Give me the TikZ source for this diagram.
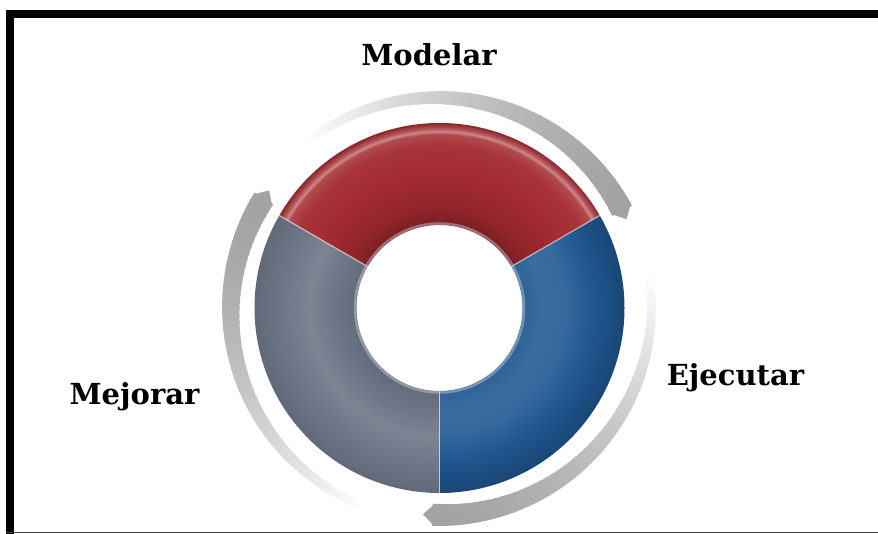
\documentclass[tikz,border=0pt]{standalone}
\usepackage{fontspec}
\usepackage{tikz}
\newfontfamily\lblfont{DejaVu Serif}
\definecolor{ring_red}{RGB}{163,42,48}
\definecolor{ring_blue}{RGB}{32,88,146}
\definecolor{ring_gray}{RGB}{110,119,136}
\definecolor{edge_light}{RGB}{205,210,218}

% tube-like shadings, 11.2bp = inner hole, 25bp = outer rim
\pgfdeclareradialshading{redtube}{\pgfpoint{0bp}{0bp}}{%
  color(0bp)=(ring_red!70!black); color(11.2bp)=(ring_red!72!black);
  color(13.5bp)=(ring_red!88!black); color(18bp)=(ring_red);
  color(22bp)=(ring_red!95!white); color(23.5bp)=(ring_red!85!white);
  color(23.85bp)=(ring_red!55!white); color(24.25bp)=(ring_red!80!white);
  color(25bp)=(ring_red!85!black); color(50bp)=(ring_red!85!black)}
\pgfdeclareradialshading{bluetube}{\pgfpoint{0bp}{0bp}}{%
  color(0bp)=(ring_blue); color(11.2bp)=(ring_blue!94!white);
  color(14bp)=(ring_blue!88!white); color(17bp)=(ring_blue!90!white);
  color(20.5bp)=(ring_blue); color(23bp)=(ring_blue!88!black);
  color(25bp)=(ring_blue!80!black); color(50bp)=(ring_blue!80!black)}
\pgfdeclareradialshading{graytube}{\pgfpoint{0bp}{0bp}}{%
  color(0bp)=(ring_gray); color(11.2bp)=(ring_gray!90!black);
  color(14.5bp)=(ring_gray); color(17.5bp)=(ring_gray!90!white);
  color(21bp)=(ring_gray); color(24bp)=(ring_gray!92!black);
  color(25bp)=(ring_gray!88!black); color(50bp)=(ring_gray!88!black)}

\begin{document}
\begin{tikzpicture}[x=1pt,y=1pt]
    \tikzstyle{lbl}=[font=\lblfont\bfseries\fontsize{29}{32}\selectfont, text=black, anchor=base, inner sep=0]
    \tikzstyle{sep}=[white, opacity=0.55, line width=1.2pt]

    \useasboundingbox (0,0) rectangle (878,534);
    \fill[white] (0,0) rectangle (878,534);

    % frame
    \draw[line width=8pt] (10,0) -- (10,520) -- (878,520);
    \draw[black!75, line width=1.5pt] (6,1.5) -- (878,1.5);

    \begin{scope}[shift={(439.5,226)}]
      \coordinate (c) at (0,0);

      % circling arrows
      \foreach \h in {28,148,268}{
        \foreach \a in {0,2,...,98}{
          \pgfmathsetmacro\t{\a/100}
          \pgfmathsetmacro\g{36*(1-\t^1.6)}
          \pgfmathsetmacro\ri{196+13*\t}
          \pgfmathsetmacro\ro{218-2*\t}
          \fill[black!\g] (\h+\a:\ro) arc[start angle=\h+\a, end angle=\h+\a+2.6, radius=\ro]
            -- (\h+\a+2.6:\ri) arc[start angle=\h+\a+2.6, end angle=\h+\a, radius=\ri] -- cycle;
        }
        \fill[black!36] (\h+0.6:218) -- (\h-2.6:207) -- (\h+0.6:196) -- cycle;
      }

      % donut
      \begin{scope}
        \clip (30:185) arc[start angle=30, end angle=150, radius=185]
          -- (150:83) arc[start angle=150, end angle=30, radius=83] -- cycle;
        \shade[shading=redtube] (c) circle (185);
      \end{scope}
      \begin{scope}
        \clip (-90:185) arc[start angle=-90, end angle=30, radius=185]
          -- (30:83) arc[start angle=30, end angle=-90, radius=83] -- cycle;
        \shade[shading=bluetube] (c) circle (185);
      \end{scope}
      \begin{scope}
        \clip (150:185) arc[start angle=150, end angle=270, radius=185]
          -- (270:83) arc[start angle=270, end angle=150, radius=83] -- cycle;
        \shade[shading=graytube] (c) circle (185);
      \end{scope}
      \draw[sep] (30:83) -- (30:185);
      \draw[sep] (150:83) -- (150:185);
      \draw[sep] (270:83) -- (270:185);
      \draw[edge_light, opacity=0.45, line width=2.5pt] (c) circle (84.5);
    \end{scope}

    \node[lbl] (modelar)  at (429,468)   {Modelar};
    \node[lbl] (ejecutar) at (735.5,148) {Ejecutar};
    \node[lbl] (mejorar)  at (134.5,129) {Mejorar};
\end{tikzpicture}
\end{document}
